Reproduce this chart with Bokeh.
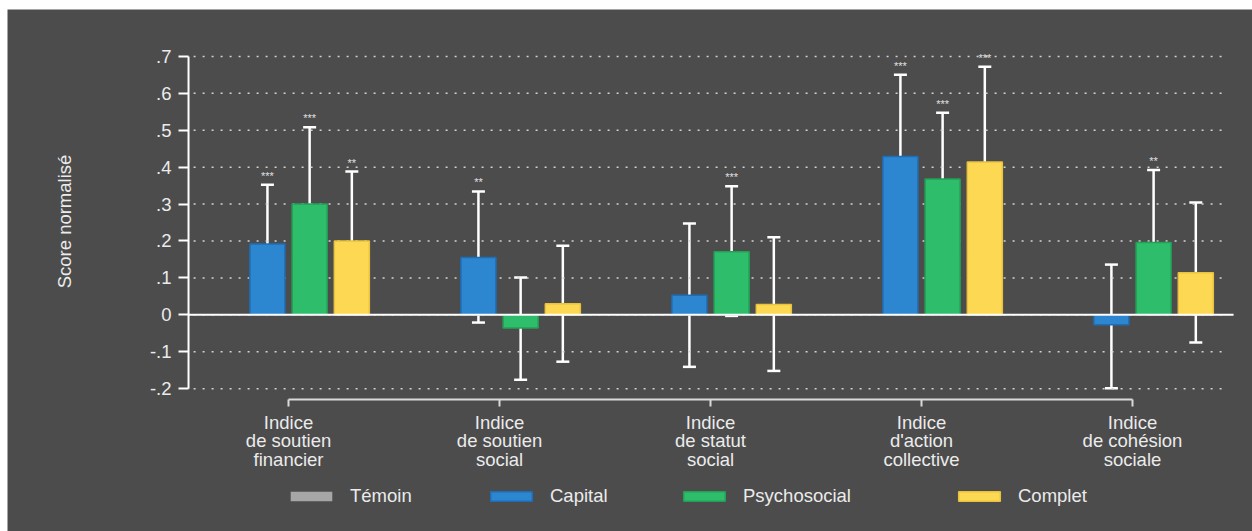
from bokeh.plotting import figure
from bokeh.models import (ColumnDataSource, Whisker, TeeHead, Legend, LegendItem,
                          FixedTicker, Range1d, Label)
from bokeh.core.properties import value
from bokeh.embed import file_html
from bokeh.resources import INLINE

# ---- data -----------------------------------------------------------------
categories = [
    "Indice\nde soutien\nfinancier",
    "Indice\nde soutien\nsocial",
    "Indice\nde statut\nsocial",
    "Indice\nd'action\ncollective",
    "Indice\nde cohésion\nsociale",
]
series = ["Témoin", "Capital", "Psychosocial", "Complet"]

temoin = [0.0, 0.0, 0.0, 0.0, 0.0]

capital = [0.192, 0.155, 0.053, 0.429, -0.027]
capital_lo = [0.029, -0.021, -0.141, 0.216, -0.199]
capital_hi = [0.352, 0.334, 0.247, 0.650, 0.136]
capital_stars = ["***", "**", "", "***", ""]

psychosocial = [0.300, -0.036, 0.171, 0.368, 0.196]
psychosocial_lo = [0.092, -0.176, -0.003, 0.190, 0.002]
psychosocial_hi = [0.508, 0.101, 0.348, 0.547, 0.392]
psychosocial_stars = ["***", "", "***", "***", "**"]

complet = [0.200, 0.030, 0.028, 0.414, 0.114]
complet_lo = [0.013, -0.127, -0.152, 0.157, -0.075]
complet_hi = [0.388, 0.187, 0.210, 0.672, 0.304]
complet_stars = ["**", "", "", "***", ""]

y_ticks = [-0.2, -0.1, 0.0, 0.1, 0.2, 0.3, 0.4, 0.5, 0.6, 0.7]
y_tick_labels = ["-.2", "-.1", "0", ".1", ".2", ".3", ".4", ".5", ".6", ".7"]

# ---- style ----------------------------------------------------------------
BG = "#4c4c4c"
TXT = "#ebebeb"
FONT = "Liberation Sans"
FS = "18.5px"
fills = ["#a6a6a6", "#2d87d0", "#2ebe6b", "#fdd852"]
edges = ["#a6a6a6", "#1f6db5", "#23a056", "#e9c23e"]
offsets = [-0.3, -0.1, 0.1, 0.3]
bar_w = 0.166

# The frame covers the whole canvas: both axes are pinned inside it, so the
# tick labels, the rotated y title and the legend all sit within the frame.
Y_AXIS_AT = 0.526          # x position of the value axis
X_AXIS_AT = -0.23          # y position of the category axis
GRID_SPAN = (0.55, 5.455)  # horizontal extent of the dotted grid
ZERO_SPAN = (0.526, 5.479) # horizontal extent of the zero line

p = figure(width=1245, height=522, output_backend="svg", toolbar_location=None,
           x_range=Range1d(-0.332, 5.5687), y_range=Range1d(-0.587, 0.827),
           min_border_left=0, min_border_right=0, min_border_top=0,
           min_border_bottom=0, margin=(9, 0, 0, 7))
p.title.visible = False
p.background_fill_color = BG
p.border_fill_color = BG
p.outline_line_color = None
p.xgrid.grid_line_color = None
p.ygrid.grid_line_color = None

# dotted horizontal grid, one line per y tick
p.segment(x0=[GRID_SPAN[0]] * len(y_ticks), x1=[GRID_SPAN[1]] * len(y_ticks),
          y0=y_ticks, y1=y_ticks, line_color="#d2d2d2", line_width=1.5,
          line_dash="2 7")

# value axis
ya = p.yaxis[0]
ya.fixed_location = Y_AXIS_AT
ya.ticker = FixedTicker(ticks=y_ticks)
ya.major_label_overrides = {t: s for t, s in zip(y_ticks, y_tick_labels)}
ya.axis_line_color = None
ya.major_tick_line_color = "white"
ya.major_tick_line_width = 2
ya.major_tick_out = 10
ya.major_tick_in = 0
ya.minor_tick_line_color = None
ya.major_label_standoff = 7
ya.major_label_text_font = FONT
ya.major_label_text_font_size = FS
ya.major_label_text_color = TXT
# axis rule between the first and last tick
p.segment(x0=[Y_AXIS_AT], x1=[Y_AXIS_AT], y0=[min(y_ticks)], y1=[max(y_ticks)],
          line_color="white", line_width=2)

p.add_layout(Label(x=57, y=310, x_units="screen", y_units="screen",
                   text="Score normalisé", angle=90, angle_units="deg",
                   text_align="center", text_baseline="middle",
                   text_font=FONT, text_font_size=FS, text_color=TXT))

# category axis
xs = [i + 1 for i in range(len(categories))]
xa = p.xaxis[0]
xa.fixed_location = X_AXIS_AT
xa.ticker = FixedTicker(ticks=xs)
xa.major_label_overrides = {x: c for x, c in zip(xs, categories)}
xa.bounds = (1, len(categories))
xa.axis_line_color = "#d9d9d9"
xa.axis_line_width = 2
xa.major_tick_line_color = "#d9d9d9"
xa.major_tick_line_width = 2
xa.major_tick_out = 7
xa.major_tick_in = 0
xa.minor_tick_line_color = None
xa.major_label_standoff = 5
xa.major_label_text_font = FONT
xa.major_label_text_font_size = FS
xa.major_label_text_color = TXT
xa.major_label_text_line_height = 0.89

# ---- bars, confidence intervals, significance stars -----------------------
values = [temoin, capital, psychosocial, complet]
lows = [None, capital_lo, psychosocial_lo, complet_lo]
highs = [None, capital_hi, psychosocial_hi, complet_hi]
stars = [None, capital_stars, psychosocial_stars, complet_stars]

renderers = []
sources = []
for k, name in enumerate(series):
    src = ColumnDataSource(dict(x=[x + offsets[k] for x in xs], top=values[k]))
    r = p.vbar(x="x", top="top", bottom=0, width=bar_w, source=src,
               fill_color=fills[k], line_color=edges[k], line_width=1.5,
               line_alpha=0 if name == "Témoin" else 1)
    renderers.append(r)
    sources.append(src)

# zero reference line over the bar bases
p.segment(x0=[ZERO_SPAN[0]], x1=[ZERO_SPAN[1]], y0=[0], y1=[0],
          line_color="white", line_width=2)

for k in range(1, len(series)):
    src = sources[k]
    src.data.update(lo=lows[k], hi=highs[k], stars=stars[k])
    p.add_layout(Whisker(source=src, base="x", lower="lo", upper="hi",
                         line_color="white", line_width=2.5,
                         upper_head=TeeHead(size=13, line_color="white", line_width=2.5),
                         lower_head=TeeHead(size=13, line_color="white", line_width=2.5)))
    p.text(x="x", y="hi", text="stars", source=src, text_align="center",
           text_baseline="bottom", y_offset=-3, text_font=value(FONT),
           text_font_size="11px", text_color="#e0e0e0")

# ---- legend: one entry per column, under the category labels ----------------
legend_x = [278, 478, 671, 946]
for name, r, lx in zip(series, renderers, legend_x):
    lg = Legend(items=[LegendItem(label=name, renderers=[r])], location=(lx, 24),
                orientation="horizontal", padding=0, margin=0, spacing=0,
                glyph_width=52, glyph_height=12, label_standoff=13,
                label_text_font=FONT, label_text_font_size=FS,
                label_text_color=TXT, background_fill_alpha=0,
                border_line_alpha=0, label_height=22)
    p.add_layout(lg, "center")

open("out.html", "w").write(file_html(p, INLINE))
